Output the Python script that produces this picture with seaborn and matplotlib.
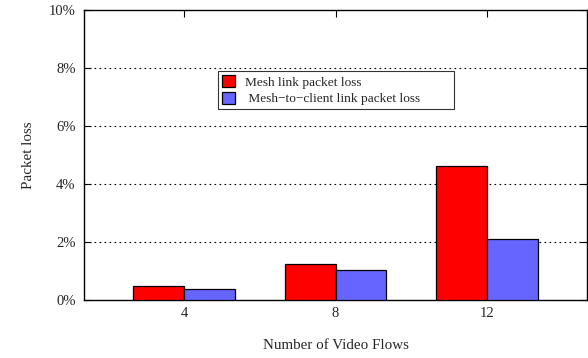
import matplotlib
matplotlib.use("Agg")
import matplotlib.pyplot as plt
import seaborn as sns
import pandas as pd
from matplotlib.ticker import FuncFormatter

flows = ["4", "8", "12"]
mesh_loss = [0.49, 1.23, 4.62]
client_loss = [0.38, 1.02, 2.11]
series_names = ["Mesh link packet loss", " Mesh\u2212to\u2212client link packet loss"]
colors = ["#ff0000", "#6666ff"]

df = pd.DataFrame({
    "flows": flows * 2,
    "loss": mesh_loss + client_loss,
    "series": [series_names[0]] * 3 + [series_names[1]] * 3,
})

sns.set_style("white")
plt.rcParams["font.family"] = ["Liberation Serif", "DejaVu Serif"]

fig = plt.figure(figsize=(5.88, 3.58), dpi=100)
ax = fig.add_axes([84 / 588, 1 - 300 / 358, (587 - 84) / 588, 290 / 358])

sns.barplot(data=df, x="flows", y="loss", hue="series", order=flows,
            hue_order=series_names, palette=colors, width=0.67,
            edgecolor="black", linewidth=0.9, saturation=1, ax=ax, zorder=3)

ax.set_ylim(0, 10)
ax.set_xlim(-0.66, 2.66)
ax.set_yticks([0, 2, 4, 6, 8, 10])
ax.yaxis.set_major_formatter(FuncFormatter(lambda v, p: f"{int(v)}%"))
for y in [2, 4, 6, 8]:
    ax.axhline(y, color="black", linestyle=(0, (1.5, 3)), linewidth=0.8, zorder=1)

for s in ax.spines.values():
    s.set_color("black")
    s.set_linewidth(1.0)

ax.tick_params(axis="both", direction="in", length=5, width=0.8, color="black",
               labelsize=10.5, top=True, right=True, left=True, bottom=True,
               labeltop=False, labelright=False)
ax.tick_params(axis="x", pad=5)
ax.tick_params(axis="y", pad=6)

ax.set_xlabel("Number of Video Flows", fontsize=10.8, labelpad=14)
ax.set_ylabel("Packet loss", fontsize=10.8, labelpad=10)

x0 = (218 - 84) / 503
w = (454 - 218) / 503
y1 = (300 - 71) / 290
h = 38 / 290
leg = ax.legend(loc="upper left", bbox_to_anchor=(x0, y1 - h, w, h), mode="expand",
                fontsize=9.6, frameon=True, fancybox=False, edgecolor="black",
                handlelength=1.0, handleheight=1.0, handletextpad=0.7,
                borderpad=0.3, labelspacing=0.25, borderaxespad=0)
leg.get_frame().set_linewidth(0.8)

fig.savefig("out.png", dpi=100)
